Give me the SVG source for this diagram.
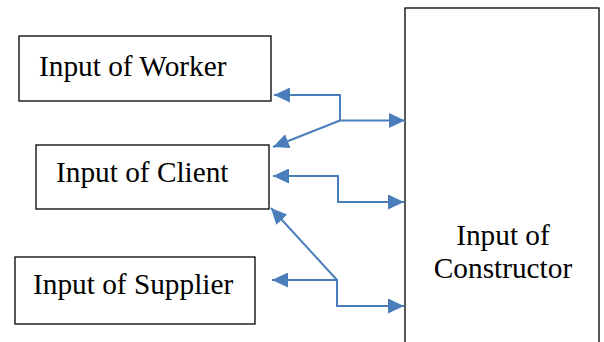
<svg xmlns="http://www.w3.org/2000/svg" width="604" height="342" viewBox="0 0 604 342">
  <style>
    .box { fill: #ffffff; stroke: #000000; stroke-width: 1.3; }
    .label { font-family: 'Liberation Serif', 'Times New Roman', Times, serif; font-size: 29.3px; fill: #000000; }
    .link { fill: none; stroke: #4A7EBB; stroke-width: 2; }
  </style>
  <defs>
    <marker id="head" markerUnits="userSpaceOnUse" markerWidth="17" markerHeight="15" refX="16" refY="7.5" orient="auto-start-reverse">
      <path d="M0,0 L16,7.5 L0,15 Z" fill="#4A7EBB"/>
    </marker>
  </defs>

  <g id="constructor">
    <rect class="box" x="405" y="8" width="194" height="345"/>
    <text class="label" x="503" y="245" text-anchor="middle" font-family="Liberation Serif, serif">Input of</text>
    <text class="label" x="503" y="278" text-anchor="middle" font-family="Liberation Serif, serif">Constructor</text>
  </g>

  <g id="worker">
    <rect class="box" x="19" y="36" width="252" height="65"/>
    <text class="label" x="39" y="76" font-family="Liberation Serif, serif">Input of Worker</text>
  </g>

  <g id="client">
    <rect class="box" x="36" y="145" width="233" height="64"/>
    <text class="label" x="56" y="182" font-family="Liberation Serif, serif">Input of Client</text>
  </g>

  <g id="supplier">
    <rect class="box" x="15" y="257" width="240" height="67"/>
    <text class="label" x="33" y="294" font-family="Liberation Serif, serif">Input of Supplier</text>
  </g>

  <g id="connectors">
    <path class="link" d="M274,95 H340 V120.5 H405" marker-start="url(#head)" marker-end="url(#head)"/>
    <path class="link" d="M340,120.5 L273,147" marker-end="url(#head)"/>
    <path class="link" d="M273,176 H338 V202 H404" marker-start="url(#head)" marker-end="url(#head)"/>
    <path class="link" d="M272,280 H337 V306 H404" marker-start="url(#head)" marker-end="url(#head)"/>
    <path class="link" d="M337,280 L271,208" marker-end="url(#head)"/>
  </g>
</svg>
